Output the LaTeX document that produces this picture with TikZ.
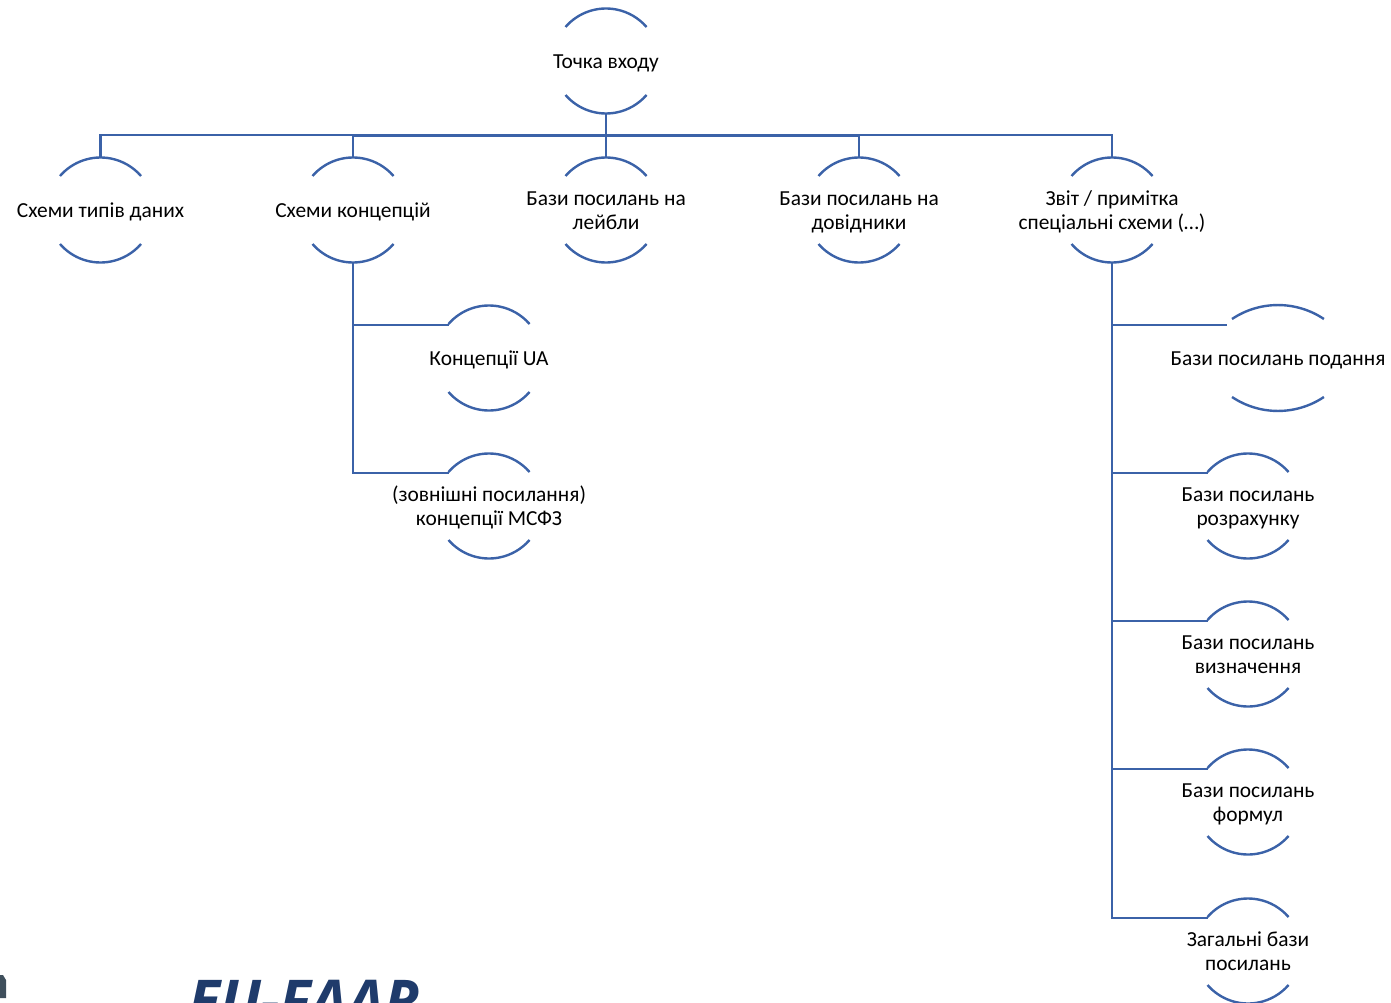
\documentclass[tikz,border=0pt]{standalone}
\usepackage{fontspec}
\setmainfont{Carlito}
\newfontfamily\logofont{Open Sans}
\usetikzlibrary{calc}
\definecolor{line}{HTML}{3B62A8}
\definecolor{logoblue}{HTML}{1F3B6B}
\definecolor{logogrey}{HTML}{3F4F5C}
\tikzset{
  x=1pt,y=1pt,
  ent/.style={minimum width=81pt,minimum height=104pt,inner sep=0pt,outer sep=0pt,font=\fontsize{21.4}{24}\selectfont,text=black},
  entw/.style={ent,minimum width=92pt,minimum height=106pt},
  arcline/.style={draw=line,line width=2.4pt},
  conn/.style={draw=line,line width=2.8pt,line join=miter},
}
\newcommand{\enttext}[1]{\raisebox{-7.5pt}[0pt][0pt]{\makebox[0pt]{\begin{tabular}[c]{@{}c@{}}#1\end{tabular}}}}
\newcommand{\ent}[4]{%
  \node[ent] (#1) at (#2,-#3) {\enttext{#4}};
  \draw[arcline] ($(#1.north west)+(0,-18)$) arc[start angle=139.1,end angle=40.9,radius=53.6];
  \draw[arcline] ($(#1.south west)+(0,18)$) arc[start angle=220.9,end angle=319.1,radius=53.6];
}
\begin{document}
\begin{tikzpicture}
\useasboundingbox (0,0) rectangle (1391,-1003);
\clip (0,0) rectangle (1391,-1003);
\ent{root}{606}{61}{Точка входу}
\ent{a}{100.5}{210}{Схеми типів даних}
\ent{b}{353}{210}{Схеми концепцій}
\ent{c}{606}{210}{Бази посилань на\\лейбли}
\ent{d}{859}{210}{Бази посилань на\\довідники}
\ent{e}{1112}{210}{Звіт / примітка\\спеціальні схеми (…)}
\ent{b1}{489}{358}{Концепції UA}
\ent{b2}{489}{506}{(зовнішні посилання)\\концепції МСФЗ}
\node[entw] (e1) at (1278,-358) {\enttext{Бази посилань подання}};
\draw[arcline] ($(e1.north west)+(0,-14)$) arc[start angle=123.8,end angle=56.2,radius=82.6];
\draw[arcline] ($(e1.south west)+(0,14)$) arc[start angle=236.2,end angle=303.8,radius=82.6];
\ent{e2}{1248}{506}{Бази посилань\\розрахунку}
\ent{e3}{1248}{654}{Бази посилань\\визначення}
\ent{e4}{1248}{802}{Бази посилань\\формул}
\ent{e5}{1248}{951}{Загальні бази\\посилань}
\coordinate (bus) at (606,-135);
\coordinate (busb) at (606,-135.6);
\foreach \t in {a,e}
  \draw[conn] (root.south) |- (bus) -| (\t.north);
\foreach \t in {b,c,d}
  \draw[conn] (root.south) |- (busb) -| (\t.north);
\foreach \t in {b1,b2}
  \draw[conn] (b.south) |- ($(\t.north west)+(0,-19)$);
\draw[conn] (e.south) |- ($(e1.north west)+(-5,-20)$);
\foreach \t in {e2,e3,e4,e5}
  \draw[conn] (e.south) |- ($(\t.north west)+(0,-19)$);
\node[anchor=base west,inner sep=0pt,text=logoblue,font=\logofont\bfseries\itshape\fontsize{59}{59}\selectfont] (logo) at (188,-1022) {EU-FAAR};
\fill[logogrey] (0,-975) -- (3,-975) -- (6,-980) -- (6,-998) -- (0,-998) -- cycle;
\end{tikzpicture}
\end{document}
